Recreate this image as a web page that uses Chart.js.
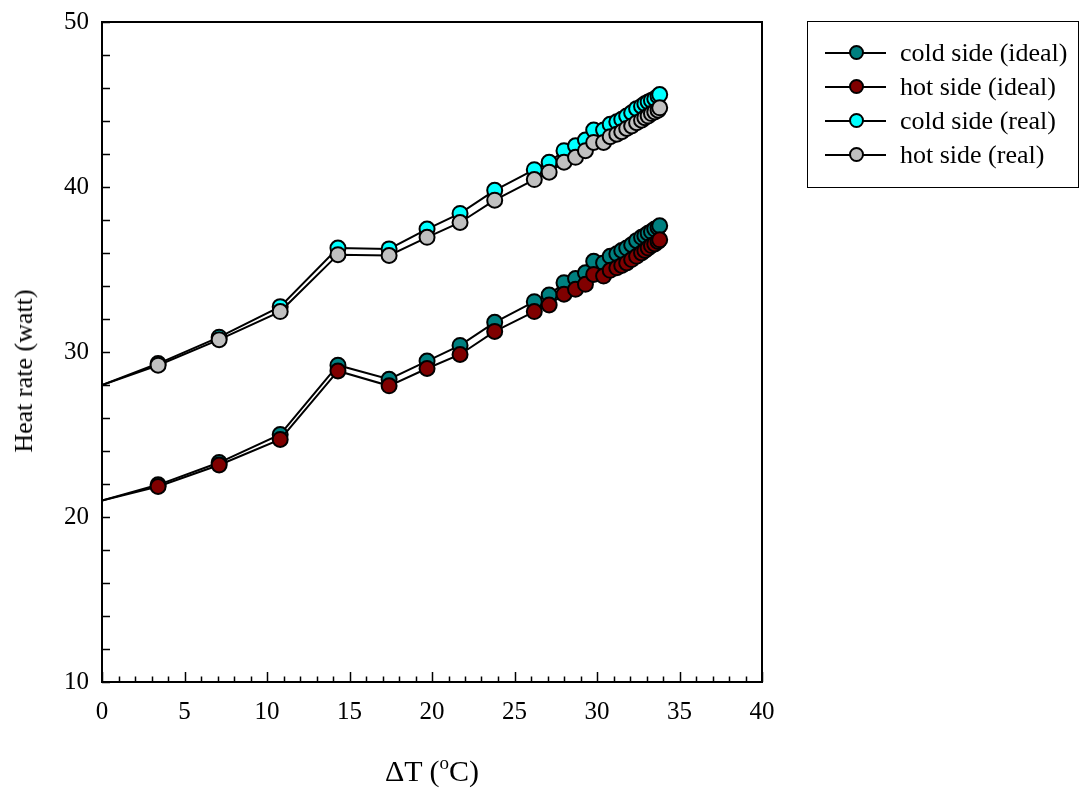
<!DOCTYPE html>
<html>
<head>
<meta charset="utf-8">
<script src="https://cdn.jsdelivr.net/npm/chart.js@4.4.1/dist/chart.umd.min.js"></script>
<style>
  html, body { margin: 0; padding: 0; background: #fff; }
  #wrap { position: relative; width: 1080px; height: 788px; overflow: hidden; }
  #chart { position: absolute; left: 0; top: 0; }
  .serif { font-family: "Liberation Serif", "Times New Roman", serif; color: #000; }
  #ytitle { position: absolute; left: 24px; top: 371px; font-size: 26px; white-space: nowrap;
            transform: translate(-50%, -50%) rotate(-90deg); }
  #xtitle { position: absolute; left: 432px; top: 771px; font-size: 30px; white-space: nowrap;
            transform: translate(-50%, -50%); }
  #xtitle sup { font-size: 19px; position: relative; top: -1px; vertical-align: top; line-height: 1; }
  #legend { position: absolute; left: 807px; top: 21px; width: 272px; height: 167px;
            border: 1.5px solid #000; box-sizing: border-box; }
  .row { position: absolute; left: 0; height: 34px; width: 100%; }
  .row .ln { position: absolute; left: 17px; width: 61px; top: 16px; height: 2px; background: #000; }
  .row .mk { position: absolute; left: 41px; top: 9px; width: 11px; height: 11px; border-radius: 50%;
             border: 2px solid #000; box-sizing: content-box; }
  .row .tx { position: absolute; left: 92px; top: 0; line-height: 34px; font-size: 26px; white-space: nowrap; }
</style>
</head>
<body>
<div id="wrap">
  <canvas id="chart" width="1080" height="788"></canvas>
  <div id="ytitle" class="serif">Heat rate (watt)</div>
  <div id="xtitle" class="serif">&Delta;T (<sup>o</sup>C)</div>
  <div id="legend" class="serif"></div>
</div>
<script>
// Temperature difference across the module (°C)
const deltaT = [0, 3.4, 7.1, 10.8, 14.3, 17.4, 19.7, 21.7, 23.8, 26.2, 27.1, 28.0, 28.7, 29.3,
                29.8, 30.4, 30.8, 31.2, 31.5, 31.8, 32.1, 32.4, 32.7, 32.9, 33.1, 33.3, 33.5, 33.7, 33.8];

// Heat rate (watt) per side
const coldIdeal = [21.0, 21.95, 23.3, 25.0, 29.2, 28.35, 29.45, 30.4, 31.8, 33.05, 33.45, 34.2, 34.45, 34.8,
                   35.5, 35.4, 35.8, 35.95, 36.15, 36.3, 36.5, 36.75, 36.95, 37.05, 37.2, 37.3, 37.45, 37.55, 37.65];
const hotIdeal  = [21.0, 21.85, 23.15, 24.7, 28.85, 27.95, 29.0, 29.85, 31.25, 32.45, 32.85, 33.5, 33.8, 34.1,
                   34.7, 34.6, 34.95, 35.1, 35.25, 35.4, 35.6, 35.8, 36.0, 36.15, 36.3, 36.45, 36.55, 36.7, 36.8];
const coldReal  = [28.0, 29.3, 30.9, 32.75, 36.3, 36.25, 37.45, 38.4, 39.8, 41.05, 41.5, 42.2, 42.5, 42.85,
                   43.45, 43.45, 43.8, 43.95, 44.1, 44.3, 44.5, 44.75, 44.9, 45.05, 45.15, 45.25, 45.35, 45.5, 45.6];
const hotReal   = [28.0, 29.2, 30.75, 32.45, 35.9, 35.85, 36.95, 37.85, 39.2, 40.45, 40.9, 41.5, 41.8, 42.2,
                   42.7, 42.7, 43.05, 43.2, 43.35, 43.55, 43.7, 43.9, 44.05, 44.2, 44.3, 44.45, 44.55, 44.65, 44.8];

const seriesLabels = ['cold side (ideal)', 'hot side (ideal)', 'cold side (real)', 'hot side (real)'];
const seriesValues = [coldIdeal, hotIdeal, coldReal, hotReal];
const seriesColors = ['#008080', '#800000', '#00FFFF', '#C0C0C0'];

// Axis tick values
const xMajorTicks = [0, 5, 10, 15, 20, 25, 30, 35, 40];
const xMinorTicks = [1, 2, 3, 4, 6, 7, 8, 9, 11, 12, 13, 14, 16, 17, 18, 19, 21, 22, 23, 24,
                     26, 27, 28, 29, 31, 32, 33, 34, 36, 37, 38, 39];
const yMajorTicks = [10, 20, 30, 40, 50];
const yMinorTicks = [12, 14, 16, 18, 22, 24, 26, 28, 32, 34, 36, 38, 42, 44, 46, 48];

const FONT = 'Liberation Serif';

// Box frame with inward-pointing tick marks
const frameTicks = {
  id: 'frameTicks',
  beforeDatasetsDraw(chart) {
    const { ctx, chartArea: a, scales: { x, y } } = chart;
    ctx.save();
    ctx.strokeStyle = '#000';
    ctx.lineWidth = 2;
    ctx.strokeRect(a.left, a.top, a.right - a.left, a.bottom - a.top);
    ctx.lineWidth = 1.5;
    ctx.beginPath();
    const xTick = (v, len) => {
      const px = Math.round(x.getPixelForValue(v)) + 0.5;
      ctx.moveTo(px, a.bottom); ctx.lineTo(px, a.bottom - len);
    };
    xMajorTicks.forEach(v => xTick(v, 10));
    xMinorTicks.forEach(v => xTick(v, 5.5));
    const yTick = (v, len) => {
      const py = Math.round(y.getPixelForValue(v)) + 0.5;
      ctx.moveTo(a.left, py); ctx.lineTo(a.left + len, py);
    };
    yMajorTicks.forEach(v => yTick(v, 8));
    yMinorTicks.forEach(v => yTick(v, 8));
    ctx.stroke();
    ctx.restore();
  }
};

const datasets = seriesLabels.map((label, k) => ({
  label,
  data: deltaT.map((t, i) => ({ x: t, y: seriesValues[k][i] })),
  showLine: true,
  borderColor: '#000',
  borderWidth: 2,
  backgroundColor: seriesColors[k],
  pointBackgroundColor: seriesColors[k],
  pointBorderColor: '#000',
  pointBorderWidth: 2,
  pointRadius: ctx => (ctx.dataIndex === 0 ? 0 : 7.5),
  pointHoverRadius: ctx => (ctx.dataIndex === 0 ? 0 : 7.5),
  order: 4 - k
}));

const chart = new Chart(document.getElementById('chart'), {
  type: 'scatter',
  data: { datasets },
  options: {
    responsive: false,
    animation: false,
    devicePixelRatio: 1,
    layout: { padding: { top: 22, right: 318, left: 0, bottom: 0 } },
    plugins: { legend: { display: false }, tooltip: { enabled: false } },
    scales: {
      x: {
        type: 'linear', min: 0, max: 40,
        afterFit(s) { s.height = 106; s.paddingLeft = 0; s.paddingRight = 0; },
        grid: { display: false, drawTicks: false },
        border: { display: false },
        ticks: { stepSize: 5, padding: 15, color: '#000', font: { family: FONT, size: 25 } }
      },
      y: {
        type: 'linear', min: 10, max: 50,
        afterFit(s) { s.width = 102; s.paddingTop = 0; s.paddingBottom = 0; },
        grid: { display: false, drawTicks: false },
        border: { display: false },
        ticks: { stepSize: 10, padding: 13, color: '#000', font: { family: FONT, size: 25 } }
      }
    }
  },
  plugins: [frameTicks]
});

// Legend entries built from the chart's datasets
const legendEl = document.getElementById('legend');
chart.data.datasets.forEach((ds, i) => {
  const row = document.createElement('div');
  row.className = 'row';
  row.style.top = (14 + i * 34) + 'px';
  row.innerHTML = '<div class="ln"></div><div class="mk"></div><div class="tx"></div>';
  row.querySelector('.mk').style.background = ds.backgroundColor;
  row.querySelector('.tx').textContent = ds.label;
  legendEl.appendChild(row);
});
</script>
</body>
</html>
